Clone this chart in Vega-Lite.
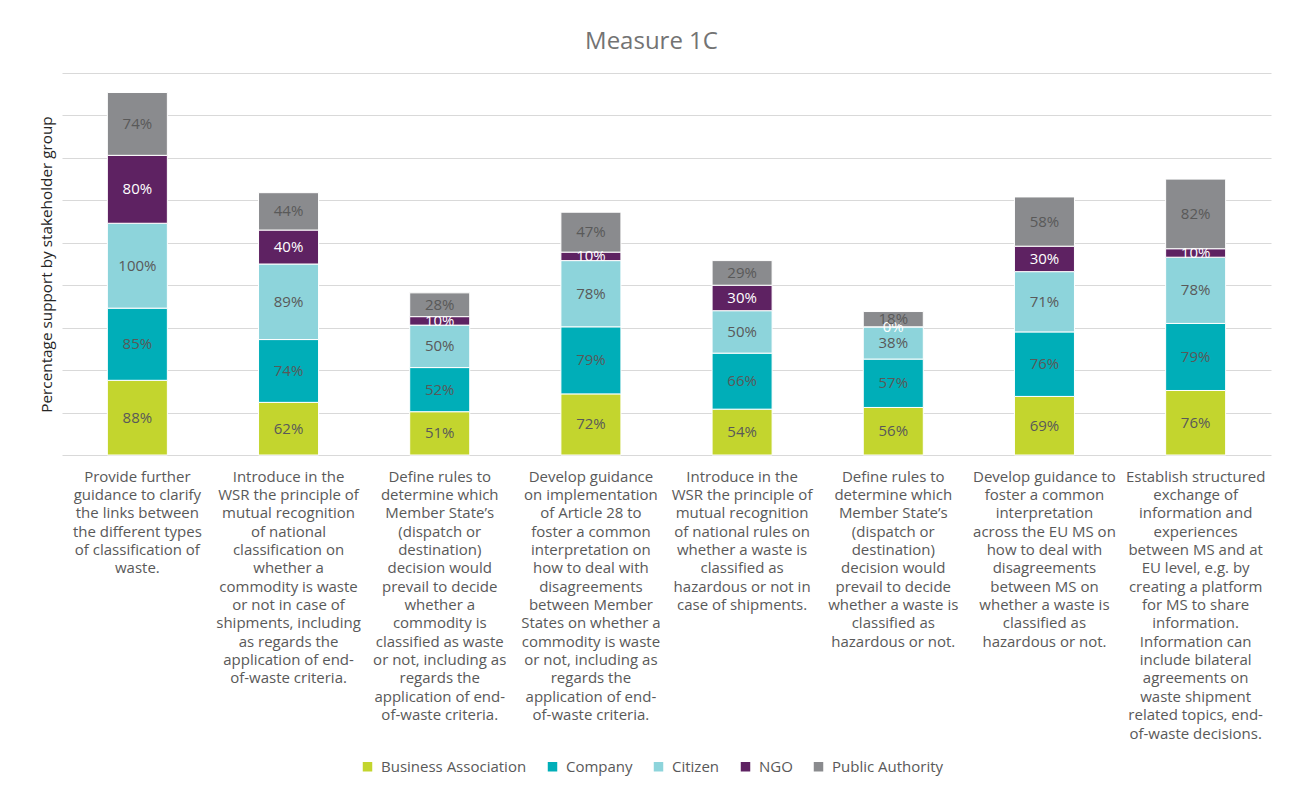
{
  "$schema": "https://vega.github.io/schema/vega-lite/v6.json",
  "width": 1209,
  "height": 382,
  "autosize": {"type": "none"},
  "padding": {"left": 62, "top": 73, "right": 26, "bottom": 332},
  "background": "white",
  "config": {"view": {"stroke": null}},
  "title": {"text": "Measure 1C", "fontSize": 24, "font": "Open Sans", "fontWeight": "normal", "color": "#737373", "anchor": "middle", "dx": -15, "offset": 19},
  "data": {"values": [
    {"m": "Provide further|guidance to clarify|the links between|the different types|of classification of|waste.", "g": "Business Association", "v": 88},
    {"m": "Provide further|guidance to clarify|the links between|the different types|of classification of|waste.", "g": "Company", "v": 85},
    {"m": "Provide further|guidance to clarify|the links between|the different types|of classification of|waste.", "g": "Citizen", "v": 100},
    {"m": "Provide further|guidance to clarify|the links between|the different types|of classification of|waste.", "g": "NGO", "v": 80},
    {"m": "Provide further|guidance to clarify|the links between|the different types|of classification of|waste.", "g": "Public Authority", "v": 74},
    {"m": "Introduce in the|WSR the principle of|mutual recognition|of national|classification on|whether a|commodity is waste|or not in case of|shipments, including|as regards the|application of end-|of-waste criteria.", "g": "Business Association", "v": 62},
    {"m": "Introduce in the|WSR the principle of|mutual recognition|of national|classification on|whether a|commodity is waste|or not in case of|shipments, including|as regards the|application of end-|of-waste criteria.", "g": "Company", "v": 74},
    {"m": "Introduce in the|WSR the principle of|mutual recognition|of national|classification on|whether a|commodity is waste|or not in case of|shipments, including|as regards the|application of end-|of-waste criteria.", "g": "Citizen", "v": 89},
    {"m": "Introduce in the|WSR the principle of|mutual recognition|of national|classification on|whether a|commodity is waste|or not in case of|shipments, including|as regards the|application of end-|of-waste criteria.", "g": "NGO", "v": 40},
    {"m": "Introduce in the|WSR the principle of|mutual recognition|of national|classification on|whether a|commodity is waste|or not in case of|shipments, including|as regards the|application of end-|of-waste criteria.", "g": "Public Authority", "v": 44},
    {"m": "Define rules to|determine which|Member State’s|(dispatch or|destination)|decision would|prevail to decide|whether a|commodity is|classified as waste|or not, including as|regards the|application of end-|of-waste criteria.", "g": "Business Association", "v": 51},
    {"m": "Define rules to|determine which|Member State’s|(dispatch or|destination)|decision would|prevail to decide|whether a|commodity is|classified as waste|or not, including as|regards the|application of end-|of-waste criteria.", "g": "Company", "v": 52},
    {"m": "Define rules to|determine which|Member State’s|(dispatch or|destination)|decision would|prevail to decide|whether a|commodity is|classified as waste|or not, including as|regards the|application of end-|of-waste criteria.", "g": "Citizen", "v": 50},
    {"m": "Define rules to|determine which|Member State’s|(dispatch or|destination)|decision would|prevail to decide|whether a|commodity is|classified as waste|or not, including as|regards the|application of end-|of-waste criteria.", "g": "NGO", "v": 10},
    {"m": "Define rules to|determine which|Member State’s|(dispatch or|destination)|decision would|prevail to decide|whether a|commodity is|classified as waste|or not, including as|regards the|application of end-|of-waste criteria.", "g": "Public Authority", "v": 28},
    {"m": "Develop guidance|on implementation|of Article 28 to|foster a common|interpretation on|how to deal with|disagreements|between Member|States on whether a|commodity is waste|or not, including as|regards the|application of end-|of-waste criteria.", "g": "Business Association", "v": 72},
    {"m": "Develop guidance|on implementation|of Article 28 to|foster a common|interpretation on|how to deal with|disagreements|between Member|States on whether a|commodity is waste|or not, including as|regards the|application of end-|of-waste criteria.", "g": "Company", "v": 79},
    {"m": "Develop guidance|on implementation|of Article 28 to|foster a common|interpretation on|how to deal with|disagreements|between Member|States on whether a|commodity is waste|or not, including as|regards the|application of end-|of-waste criteria.", "g": "Citizen", "v": 78},
    {"m": "Develop guidance|on implementation|of Article 28 to|foster a common|interpretation on|how to deal with|disagreements|between Member|States on whether a|commodity is waste|or not, including as|regards the|application of end-|of-waste criteria.", "g": "NGO", "v": 10},
    {"m": "Develop guidance|on implementation|of Article 28 to|foster a common|interpretation on|how to deal with|disagreements|between Member|States on whether a|commodity is waste|or not, including as|regards the|application of end-|of-waste criteria.", "g": "Public Authority", "v": 47},
    {"m": "Introduce in the|WSR the principle of|mutual recognition|of national rules on|whether a waste is|classified as|hazardous or not in|case of shipments.", "g": "Business Association", "v": 54},
    {"m": "Introduce in the|WSR the principle of|mutual recognition|of national rules on|whether a waste is|classified as|hazardous or not in|case of shipments.", "g": "Company", "v": 66},
    {"m": "Introduce in the|WSR the principle of|mutual recognition|of national rules on|whether a waste is|classified as|hazardous or not in|case of shipments.", "g": "Citizen", "v": 50},
    {"m": "Introduce in the|WSR the principle of|mutual recognition|of national rules on|whether a waste is|classified as|hazardous or not in|case of shipments.", "g": "NGO", "v": 30},
    {"m": "Introduce in the|WSR the principle of|mutual recognition|of national rules on|whether a waste is|classified as|hazardous or not in|case of shipments.", "g": "Public Authority", "v": 29},
    {"m": "Define rules to|determine which|Member State’s|(dispatch or|destination)|decision would|prevail to decide|whether a waste is|classified as|hazardous or not.", "g": "Business Association", "v": 56},
    {"m": "Define rules to|determine which|Member State’s|(dispatch or|destination)|decision would|prevail to decide|whether a waste is|classified as|hazardous or not.", "g": "Company", "v": 57},
    {"m": "Define rules to|determine which|Member State’s|(dispatch or|destination)|decision would|prevail to decide|whether a waste is|classified as|hazardous or not.", "g": "Citizen", "v": 38},
    {"m": "Define rules to|determine which|Member State’s|(dispatch or|destination)|decision would|prevail to decide|whether a waste is|classified as|hazardous or not.", "g": "NGO", "v": 0},
    {"m": "Define rules to|determine which|Member State’s|(dispatch or|destination)|decision would|prevail to decide|whether a waste is|classified as|hazardous or not.", "g": "Public Authority", "v": 18},
    {"m": "Develop guidance to|foster a common|interpretation|across the EU MS on|how to deal with|disagreements|between MS on|whether a waste is|classified as|hazardous or not.", "g": "Business Association", "v": 69},
    {"m": "Develop guidance to|foster a common|interpretation|across the EU MS on|how to deal with|disagreements|between MS on|whether a waste is|classified as|hazardous or not.", "g": "Company", "v": 76},
    {"m": "Develop guidance to|foster a common|interpretation|across the EU MS on|how to deal with|disagreements|between MS on|whether a waste is|classified as|hazardous or not.", "g": "Citizen", "v": 71},
    {"m": "Develop guidance to|foster a common|interpretation|across the EU MS on|how to deal with|disagreements|between MS on|whether a waste is|classified as|hazardous or not.", "g": "NGO", "v": 30},
    {"m": "Develop guidance to|foster a common|interpretation|across the EU MS on|how to deal with|disagreements|between MS on|whether a waste is|classified as|hazardous or not.", "g": "Public Authority", "v": 58},
    {"m": "Establish structured|exchange of|information and|experiences|between MS and at|EU level, e.g. by|creating a platform|for MS to share|information.|Information can|include bilateral|agreements on|waste shipment|related topics, end-|of-waste decisions.", "g": "Business Association", "v": 76},
    {"m": "Establish structured|exchange of|information and|experiences|between MS and at|EU level, e.g. by|creating a platform|for MS to share|information.|Information can|include bilateral|agreements on|waste shipment|related topics, end-|of-waste decisions.", "g": "Company", "v": 79},
    {"m": "Establish structured|exchange of|information and|experiences|between MS and at|EU level, e.g. by|creating a platform|for MS to share|information.|Information can|include bilateral|agreements on|waste shipment|related topics, end-|of-waste decisions.", "g": "Citizen", "v": 78},
    {"m": "Establish structured|exchange of|information and|experiences|between MS and at|EU level, e.g. by|creating a platform|for MS to share|information.|Information can|include bilateral|agreements on|waste shipment|related topics, end-|of-waste decisions.", "g": "NGO", "v": 10},
    {"m": "Establish structured|exchange of|information and|experiences|between MS and at|EU level, e.g. by|creating a platform|for MS to share|information.|Information can|include bilateral|agreements on|waste shipment|related topics, end-|of-waste decisions.", "g": "Public Authority", "v": 82}
  ]},
  "transform": [
    {"calculate": "indexof(['Business Association','Company','Citizen','NGO','Public Authority'], datum.g)", "as": "k"},
    {"stack": "v", "groupby": ["m"], "sort": [{"field": "k", "order": "ascending"}], "as": ["v0", "v1"]},
    {"calculate": "(datum.v0 + datum.v1) / 2", "as": "vm"},
    {"calculate": "datum.v + '%'", "as": "lbl"}
  ],
  "encoding": {
    "x": {
      "field": "m", "type": "nominal", "sort": null,
      "scale": {"paddingInner": 0.603, "paddingOuter": 0.3},
      "axis": {
        "title": null, "labelExpr": "split(datum.label, '|')", "labelAngle": 0,
        "labelFontSize": 15, "labelFont": "Open Sans", "labelColor": "#595959",
        "labelLineHeight": 18.36, "labelPadding": 14, "labelBaseline": "top",
        "labelLimit": 300, "ticks": false, "domain": false, "grid": false,
        "labelOverlap": false, "labelBound": false
      }
    }
  },
  "layer": [
    {
      "mark": {"type": "bar", "stroke": "white", "strokeWidth": 1},
      "encoding": {
        "y": {
          "field": "v0", "type": "quantitative",
          "scale": {"domain": [0, 450], "nice": false, "zero": true},
          "axis": {
            "title": "Percentage support by stakeholder group",
            "values": [0, 50, 100, 150, 200, 250, 300, 350, 400, 450],
            "labels": false, "ticks": false, "domain": false, "grid": true,
            "gridColor": "#d9d9d9", "gridWidth": 1.2,
            "titleFontSize": 15.3, "titleFont": "Open Sans", "titleFontWeight": "normal",
            "titleColor": "#262626", "titlePadding": 8
          }
        },
        "y2": {"field": "v1"},
        "color": {
          "field": "g", "type": "nominal",
          "scale": {
            "domain": ["Business Association", "Company", "Citizen", "NGO", "Public Authority"],
            "range": ["#c3d52e", "#00aeb8", "#8dd4db", "#5e2262", "#8a8b8e"]
          },
          "legend": {
            "title": null, "orient": "none", "legendX": 298, "legendY": 686,
            "direction": "horizontal",
            "symbolType": "square", "symbolSize": 90, "symbolStrokeWidth": 0,
            "labelFontSize": 15, "labelFont": "Open Sans", "labelColor": "#595959",
            "columnPadding": 18, "labelOffset": 6
          }
        }
      }
    },
    {
      "mark": {"type": "text", "fontSize": 15, "font": "Open Sans"},
      "encoding": {
        "y": {"field": "vm", "type": "quantitative"},
        "text": {"field": "lbl", "type": "nominal"},
        "color": {"condition": {"test": "datum.g === 'NGO'", "value": "white"}, "value": "#595959"}
      }
    }
  ]
}
